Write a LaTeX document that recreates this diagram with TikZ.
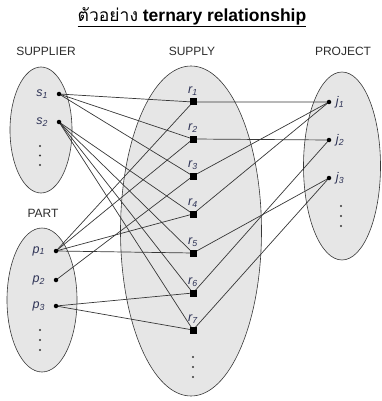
\documentclass[tikz,border=0pt]{standalone}
\usepackage{fontspec}
\setmainfont{Liberation Sans}
\newfontfamily\thaifont[Script=Thai]{Loma}
\usetikzlibrary{
    backgrounds,
    positioning,
    shapes.geometric
}
\definecolor{tikzgray}{RGB}{55,55,55}
\definecolor{setfill}{RGB}{230,230,230}
\definecolor{labelblue}{RGB}{45,50,85}
\tikzset{
    % Set styles
    set oval/.style={
        draw=tikzgray,
        fill=setfill,
        ellipse,
        inner sep=0pt,
        line width=0.6pt
    },
    set title/.style={
        text=tikzgray!80!black,
        font=\fontsize{12}{14}\selectfont
    },
    % Instance styles
    member dot/.style={
        circle,
        fill=black,
        inner sep=0pt,
        minimum size=4.5pt
    },
    link box/.style={
        rectangle,
        fill=black,
        inner sep=0pt,
        minimum size=7pt
    },
    inst label/.style={
        text=labelblue,
        font=\fontsize{12.5}{14}\selectfont\itshape
    },
    % Line styles
    link/.style={
        draw=tikzgray,
        line width=0.7pt
    },
    more dot/.style={
        circle,
        fill=tikzgray,
        inner sep=0pt,
        minimum size=2.2pt
    }
}

\begin{document}
\begin{tikzpicture}[x=1pt, y=-1pt]
        \useasboundingbox (0,0) rectangle (381,401);

        % Title
        \node[font=\fontsize{17.5}{20}\selectfont] (title) at (192,17)
            {\underline{{\thaifont ตัวอย่าง} \textbf{ternary relationship}}};

        % Sets
        \begin{scope}[on background layer]
            \node[set oval, minimum width=62pt, minimum height=126pt] (supplier) at (41,130) {};
            \node[set oval, minimum width=70pt, minimum height=144pt] (part) at (42,300) {};
            \node[set oval, minimum width=141pt, minimum height=330pt] (supply) at (191,231) {};
            \node[set oval, minimum width=77pt, minimum height=188pt] (project) at (342,166) {};
        \end{scope}

        \node[set title] (supplierlabel) at (46,51) {SUPPLIER};
        \node[set title] (supplylabel) at (192,51) {SUPPLY};
        \node[set title] (projectlabel) at (343,51) {PROJECT};
        \node[set title] (partlabel) at (43,213) {PART};

        % Members
        \foreach \i/\y in {1/94,2/122} {
            \node[member dot, label={[inst label, label distance=5pt]left:s\textsubscript{\i}}] at (59,\y) (s\i) {};
        }
        \foreach \i/\y in {1/251,2/280,3/306} {
            \node[member dot, label={[inst label, label distance=5pt]left:p\textsubscript{\i}}] at (56,\y) (p\i) {};
        }
        \foreach \i/\y in {1/102,2/140,3/178} {
            \node[member dot, label={[inst label, label distance=1pt]right:j\textsubscript{\i}}] at (329,\y) (j\i) {};
        }
        \foreach \i/\y in {1/102,2/139,3/176,4/214,5/253,6/293,7/330} {
            \node[link box, label={[inst label, label distance=-1pt]above:r\textsubscript{\i}}] at (193,\y) (r\i) {};
        }

        % More members
        \foreach \y in {0,1,2} {
            \node[more dot] at (40,146+\y*9.5) (supplymore\y) {};
            \node[more dot] at (40,330+\y*10) (partmore\y) {};
            \node[more dot] at (193,357+\y*10) (relmore\y) {};
            \node[more dot] at (341,206+\y*10) (projectmore\y) {};
        }

        % Connections
        \begin{scope}[on background layer]
            \foreach \r/\s/\p/\j in {1/1/1/1,2/1/1/2,3/1/2/1,4/2/1/1,5/2/1/3,6/2/3/2,7/2/3/3} {
                \draw[link] (s\s.center) -- (r\r.center) -- (j\j.center);
                \draw[link] (p\p.center) -- (r\r.center);
            }
        \end{scope}
    \end{tikzpicture}
\end{document}
